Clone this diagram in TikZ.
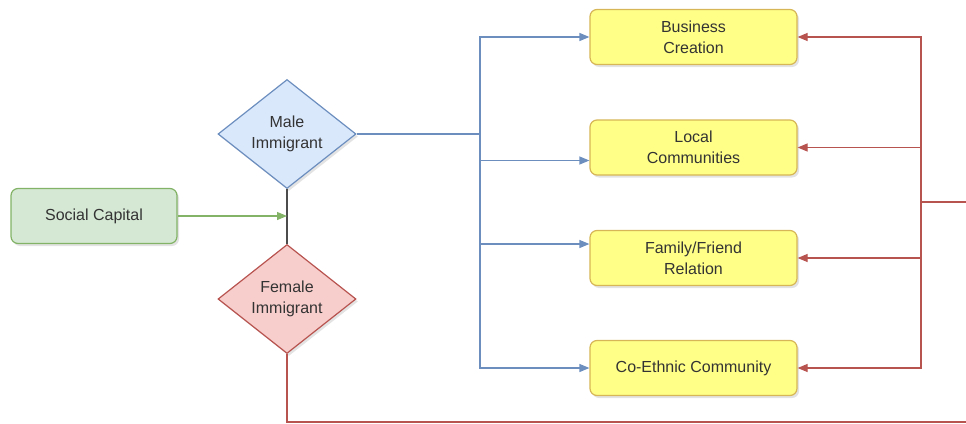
\documentclass[tikz,border=0pt]{standalone}
\usepackage{fontspec}
\setmainfont{Liberation Sans}
\usetikzlibrary{shapes.geometric,arrows.meta,shadows,calc}
\definecolor{gfill}{HTML}{D5E8D4}
\definecolor{gline}{HTML}{82B366}
\definecolor{bfill}{HTML}{DAE8FC}
\definecolor{bline}{HTML}{6C8EBF}
\definecolor{rfill}{HTML}{F8CECC}
\definecolor{rline}{HTML}{B85450}
\definecolor{yfill}{HTML}{FFFF88}
\definecolor{yline}{HTML}{D6B656}
\definecolor{txt}{HTML}{333333}
\tikzset{
  shad/.style={drop shadow={opacity=0.22,shadow xshift=2pt,shadow yshift=-2.5pt}},
  box/.style={rounded corners=7pt,minimum width=207pt,minimum height=55pt,
    draw=yline,fill=yfill,line width=1.2pt,shad,align=center,text=txt,
    font=\fontsize{16}{21}\selectfont},
  gbox/.style={box,draw=gline,fill=gfill,minimum width=166pt},
  dia/.style={diamond,minimum width=138pt,minimum height=109pt,inner sep=0pt,
    line width=1.2pt,shad,align=center,text=txt,font=\fontsize{16}{21}\selectfont},
  blue/.style={draw=bline,line width=1.2pt},
  red/.style={draw=rline,line width=1.2pt},
  tip/.style={-{Triangle[length=10pt,width=8pt]}}
}
\begin{document}
\begin{tikzpicture}[x=1pt,y=-1pt]
\useasboundingbox (0,0) rectangle (966,423);
\node[gbox] (sc) at (94,216) {Social Capital};
\node[dia,draw=bline,fill=bfill] (mi) at (287,134) {Male\\Immigrant};
\node[dia,draw=rline,fill=rfill] (fi) at (287,299) {Female\\Immigrant};
\node[box] (bc) at (693.5,37) {Business\\Creation};
\node[box] (lc) at (693.5,147.5) {Local\\Communities};
\node[box] (fr) at (693.5,258) {Family/Friend\\Relation};
\node[box] (ce) at (693.5,368) {Co-Ethnic Community};
\coordinate (bj) at (480,134);
\coordinate (rj) at (921,202);
\coordinate (re) at (966,202);
\coordinate (fb) at (287,422);
\coordinate (fe) at (966,422);
% black link between diamonds
\draw[line width=1.2pt,black!70] (mi.south) -- (fi.north);
% green arrow
\draw[draw=gline,line width=1.2pt,tip,gline] (sc.east) -- (sc.east -| mi.south);
% blue connectors
\draw[blue] (mi.east) -- (bj);
\draw[blue,tip,bline] (bj) |- (bc.west);
\draw[blue,tip,bline] (bj) |- ($(lc.west)+(0,13)$);
\draw[blue,tip,bline] (bj) |- ($(fr.west)+(0,-14)$);
\draw[blue,tip,bline] (bj) |- (ce.west);
% red connectors
\draw[red] (re) -- (rj);
\draw[red,tip,rline] (rj) |- (bc.east);
\draw[red,tip,rline] (rj) |- (lc.east);
\draw[red,tip,rline] (rj) |- (fr.east);
\draw[red,tip,rline] (rj) |- (ce.east);
\draw[red] (fi.south) -- (fb) -- (fe);
\end{tikzpicture}
\end{document}
